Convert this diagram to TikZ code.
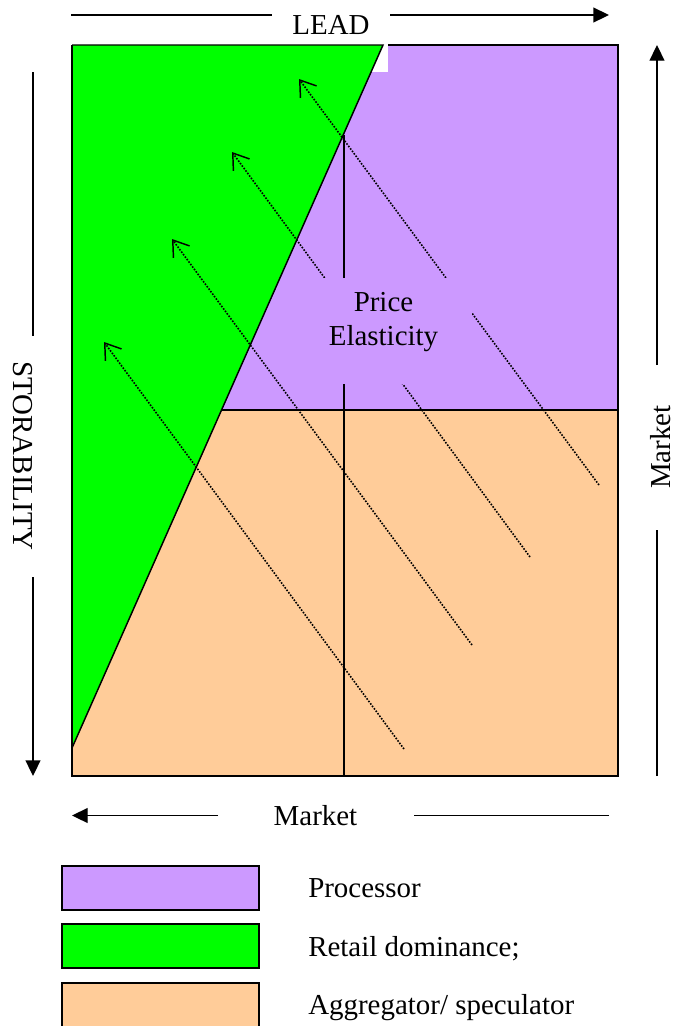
\documentclass[tikz,border=0pt]{standalone}
\usepackage{fontspec}
\setmainfont{Liberation Serif}
\usepackage{tikz}
\usetikzlibrary{arrows.meta}
\definecolor{procpurple}{RGB}{204,153,255}
\definecolor{retailgreen}{RGB}{0,255,0}
\definecolor{aggorange}{RGB}{255,204,153}

\begin{document}
\begin{tikzpicture}[
      x=0.75pt, y=-0.75pt,
      lbl/.style={font=\fontsize{21.7}{25.5}\selectfont, inner sep=0pt},
      axis/.style={line width=1.1pt},
      axisarr/.style={axis, -{Triangle[length=11.8pt,width=11.2pt]}},
      zone/.style={line width=1.1pt},
      flow/.style={line width=1.2pt, dash pattern=on 1.2pt off 1.1pt,
                   -{Straight Barb[length=11pt,width=15pt,line width=1.1pt]}},
      key/.style={draw, line width=1.4pt, minimum width=147.75pt,
                  minimum height=33pt, inner sep=0pt, anchor=north west},
    ]
    \useasboundingbox (0,0) rectangle (675,1026);

    \fill[aggorange] (72,410) rectangle (618,776);
    \fill[procpurple] (388,45) -- (618,45) -- (618,410) -- (221,410)
      -- (371,72) -- (388,72) -- cycle;
    \fill[retailgreen] (72,45) -- (383,45) -- (72,748) -- cycle;

    \draw[zone] (72,45) -- (383,45) -- (72,748);
    \draw[zone] (72,45) -- (72,776) -- (618,776) -- (618,45) -- (388,45);
    \draw[zone] (221.5,410) -- (618,410);

    \coordinate (elTop) at (344,135);
    \coordinate (elBot) at (344,776);
    \draw[line width=1.3pt] (elTop) -- (elBot);

    \coordinate (f1s) at (404,749);
    \coordinate (f1e) at (104,342);
    \coordinate (f2s) at (472,645);
    \coordinate (f2e) at (172,239);
    \coordinate (f3s) at (530,557);
    \coordinate (f3e) at (232,152);
    \coordinate (f4s) at (599,485);
    \coordinate (f4e) at (299,79);
    \draw[flow] (f1s) -- (f1e);
    \draw[flow] (f2s) -- (f2e);
    \draw[flow] (f3s) -- (f3e);
    \draw[flow] (f4s) -- (f4e);

    \fill[procpurple] (294,278) rectangle (472,384);
    \node[lbl, align=center] (elast) at (383.5,322.5) {Price\\Elasticity};

    \node[lbl] (lead) at (331,24.5) {LEAD};
    \coordinate (leadA) at (71,15);
    \coordinate (leadB) at (272,15);
    \coordinate (leadC) at (390,15);
    \coordinate (leadD) at (609,15);
    \draw[axis] (leadA) -- (leadB);
    \draw[axisarr] (leadC) -- (leadD);

    \node[lbl, rotate=-90] (stor) at (22.5,456) {STORABILITY};
    \coordinate (storA) at (33,72);
    \coordinate (storB) at (33,336);
    \coordinate (storC) at (33,577);
    \coordinate (storD) at (33,776);
    \draw[axis] (storA) -- (storB);
    \draw[axisarr] (storC) -- (storD);

    \node[lbl, rotate=90] (mktR) at (661,447) {Market};
    \coordinate (mktRA) at (657,776);
    \coordinate (mktRB) at (657,530);
    \coordinate (mktRC) at (657,365);
    \coordinate (mktRD) at (657,45);
    \draw[axis] (mktRA) -- (mktRB);
    \draw[axisarr] (mktRC) -- (mktRD);

    \node[lbl] (mktB) at (315.5,815.5) {Market};
    \coordinate (mktBA) at (609,815.5);
    \coordinate (mktBB) at (414,815.5);
    \coordinate (mktBC) at (218,815.5);
    \coordinate (mktBD) at (72,815.5);
    \draw[axis] (mktBA) -- (mktBB);
    \draw[axisarr] (mktBC) -- (mktBD);

    \node[key, fill=procpurple] (kproc) at (61,865) {};
    \node[key, fill=retailgreen] (kretail) at (61,923) {};
    \node[key, fill=aggorange] (kagg) at (61,982) {};

    \node[lbl, anchor=base west] (tproc) at (308,897.5) {Processor};
    \node[lbl, anchor=base west] (tretail) at (308,956) {Retail dominance;};
    \node[lbl, anchor=base west] (tagg) at (308,1014) {Aggregator/ speculator};
  \end{tikzpicture}
\end{document}
